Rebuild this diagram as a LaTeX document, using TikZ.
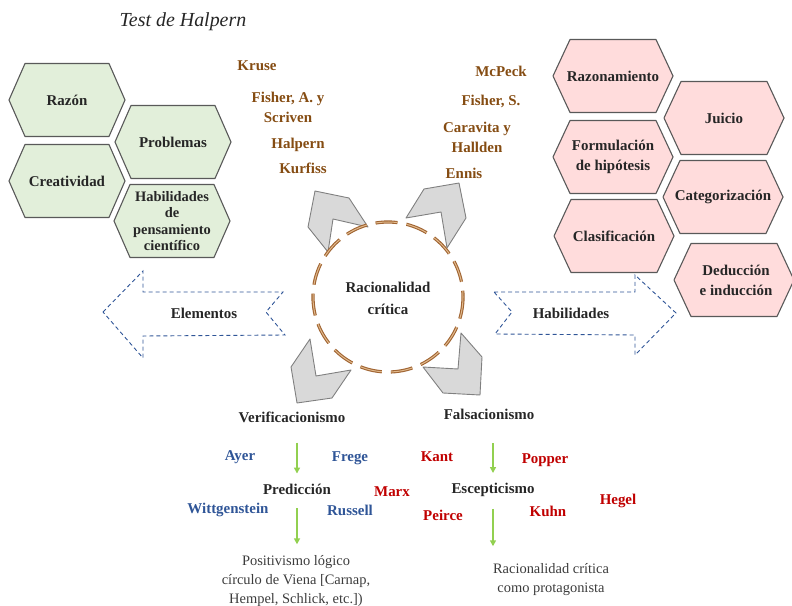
\documentclass[tikz,border=0pt]{standalone}
\usepackage{fontspec}
\setmainfont{Liberation Serif}
\usepackage{xcolor}
\usepackage{tikz}
\usetikzlibrary{arrows.meta}

\definecolor{leafgreen}{RGB}{226,239,218}
\definecolor{rosepink}{RGB}{255,220,220}
\definecolor{hexline}{RGB}{89,89,89}
\definecolor{namebrown}{RGB}{133,76,18}
\definecolor{nameblue}{RGB}{47,85,151}
\definecolor{namered}{RGB}{192,0,0}
\definecolor{ringbrown}{RGB}{160,100,50}
\definecolor{ringlight}{RGB}{225,185,140}
\definecolor{chevfill}{RGB}{217,217,217}
\definecolor{chevline}{RGB}{128,128,128}
\definecolor{dashblue}{RGB}{47,85,151}
\definecolor{leafarrow}{RGB}{146,208,80}
\definecolor{ink}{RGB}{38,38,38}

\begin{document}
\begin{tikzpicture}[x=1bp, y=-1bp,
  hexgreen/.style={draw=hexline, fill=leafgreen, line width=1.1bp, line join=round},
  hexpink/.style={draw=hexline, fill=rosepink, line width=1.1bp, line join=round},
  word/.style={font=\fontsize{15}{20}\selectfont\bfseries, text=ink, align=center, inner sep=1bp},
  brownname/.style={word, text=namebrown},
  bluename/.style={word, text=nameblue},
  redname/.style={word, text=namered},
  plaintext/.style={font=\fontsize{14.5}{19}\selectfont, text=ink!90, align=center, inner sep=1bp},
  chev/.style={draw=chevline, fill=chevfill, line width=0.9bp, line join=round},
  ringdash/.style={dash pattern=on 22bp off 9bp},
  blueline/.style={draw=dashblue, line width=0.9bp, dash pattern=on 4bp off 3bp},
  grarrow/.style={draw=leafarrow, line width=1.8bp, -{Triangle[length=6bp,width=6bp]}}]

\useasboundingbox (0,0) rectangle (792,606);

% Title
\node[font=\fontsize{20}{24}\selectfont\itshape, text=ink] (title) at (183,22) {Test de Halpern};

% Green hexagons
\foreach \cx/\cy in {67/100, 173/142, 67/181, 172/221}
  \draw[hexgreen] (\cx-58,\cy) -- (\cx-42,\cy-36.5) -- (\cx+42,\cy-36.5) -- (\cx+58,\cy)
    -- (\cx+42,\cy+36.5) -- (\cx-42,\cy+36.5) -- cycle;

\node[word] (razon) at (67,100) {Razón};
\node[word] (problemas) at (173,142) {Problemas};
\node[word] (creatividad) at (67,181) {Creatividad};
\node[word, font=\fontsize{14.5}{16.5}\selectfont\bfseries] (habcien) at (172,221) {Habilidades\\de\\pensamiento\\científico};

% Pink hexagons
\foreach \cx/\cy in {613/76, 724/118, 613/157, 723/197, 614/236, 734/280}
  \draw[hexpink] (\cx-60,\cy) -- (\cx-43,\cy-36.5) -- (\cx+43,\cy-36.5) -- (\cx+60,\cy)
    -- (\cx+43,\cy+36.5) -- (\cx-43,\cy+36.5) -- cycle;

\node[word] (razonamiento) at (613,76) {Razonamiento};
\node[word] (juicio) at (724,118) {Juicio};
\node[word] (formulacion) at (613,157) {Formulación\\de hipótesis};
\node[word] (categorizacion) at (723,197) {Categorización};
\node[word] (clasificacion) at (614,236) {Clasificación};
\node[word] (deduccion) at (736,280) {Deducción\\e inducción};

% Authors (brown)
\node[brownname] (kruse) at (257,66) {Kruse};
\node[brownname] (fishera) at (288,107) {Fisher, A. y\\Scriven};
\node[brownname] (halpern) at (298,145) {Halpern};
\node[brownname] (kurfiss) at (303,168) {Kurfiss};
\node[brownname] (mcpeck) at (501,71) {McPeck};
\node[brownname] (fishers) at (491,101) {Fisher, S.};
\node[brownname] (caravita) at (477,137.5) {Caravita y\\Hallden};
\node[brownname] (ennis) at (464,173) {Ennis};

% Gray chevrons
\filldraw[chev] (315,191) -- (349,198) -- (368,227) -- (333,219) -- (328,252) -- (308,227) -- cycle;
\filldraw[chev] (424,189) -- (459,183) -- (466,218) -- (447,248) -- (441,212) -- (406,218) -- cycle;
\filldraw[chev] (310,339) -- (316,376) -- (351,370) -- (332,398) -- (297,403) -- (291,367) -- cycle;
\filldraw[chev] (423,367) -- (458,369) -- (461,333) -- (482,357) -- (480,395) -- (443,393) -- cycle;

% Central ring
\draw[ringbrown, line width=3.2bp, ringdash] (388,297) circle[radius=75];
\draw[ringlight, line width=1bp, ringdash] (388,297) circle[radius=75];
\node[word, font=\fontsize{15}{22}\selectfont\bfseries] (racional) at (388,298) {Racionalidad\\crítica};

% Dashed blue arrows
\draw[blueline] (103,312) -- (143,271) -- (143,292) -- (283,292) -- (266,312) -- (285,335)
  -- (143,336) -- (143,358) -- cycle;
\node[word] (elementos) at (204,313) {Elementos};
\draw[blueline] (494,292) -- (635,292) -- (635,275) -- (676,313) -- (635,355) -- (635,335)
  -- (495,334) -- (512,312) -- cycle;
\node[word] (habilidades) at (571,313) {Habilidades};

% Lower branches
\node[word] (verif) at (292,417) {Verificacionismo};
\node[word] (fals) at (489,414) {Falsacionismo};
\node[word] (pred) at (297,489) {Predicción};
\node[word] (escep) at (493,490) {Escepticismo};
\node[plaintext] (positiv) at (296,581) {Positivismo lógico\\círculo de Viena [Carnap,\\Hempel, Schlick, etc.])};
\node[plaintext] (protag) at (551,579.5) {Racionalidad crítica\\como protagonista};

% Green arrows
\draw[grarrow, shorten <=19bp, shorten >=9bp] (pred.north |- verif.south) -- (pred.north);
\draw[grarrow, shorten <=13bp, shorten >=10bp] (pred.south) -- (pred.south |- positiv.north);
\draw[grarrow, shorten <=23bp, shorten >=9bp] (escep.north |- fals.south) -- (escep.north);
\draw[grarrow, shorten <=11bp, shorten >=16bp] (escep.south) -- (escep.south |- protag.north);

% Authors (blue)
\node[bluename] (ayer) at (240,457) {Ayer};
\node[bluename] (frege) at (350,458) {Frege};
\node[bluename] (wittgenstein) at (228,510) {Wittgenstein};
\node[bluename] (russell) at (350,510) {Russell};

% Authors (red)
\node[redname] (kant) at (437,457) {Kant};
\node[redname] (marx) at (392,492) {Marx};
\node[redname] (peirce) at (443,515) {Peirce};
\node[redname] (popper) at (545,460) {Popper};
\node[redname] (kuhn) at (548,511) {Kuhn};
\node[redname] (hegel) at (618,501) {Hegel};

\end{tikzpicture}
\end{document}
